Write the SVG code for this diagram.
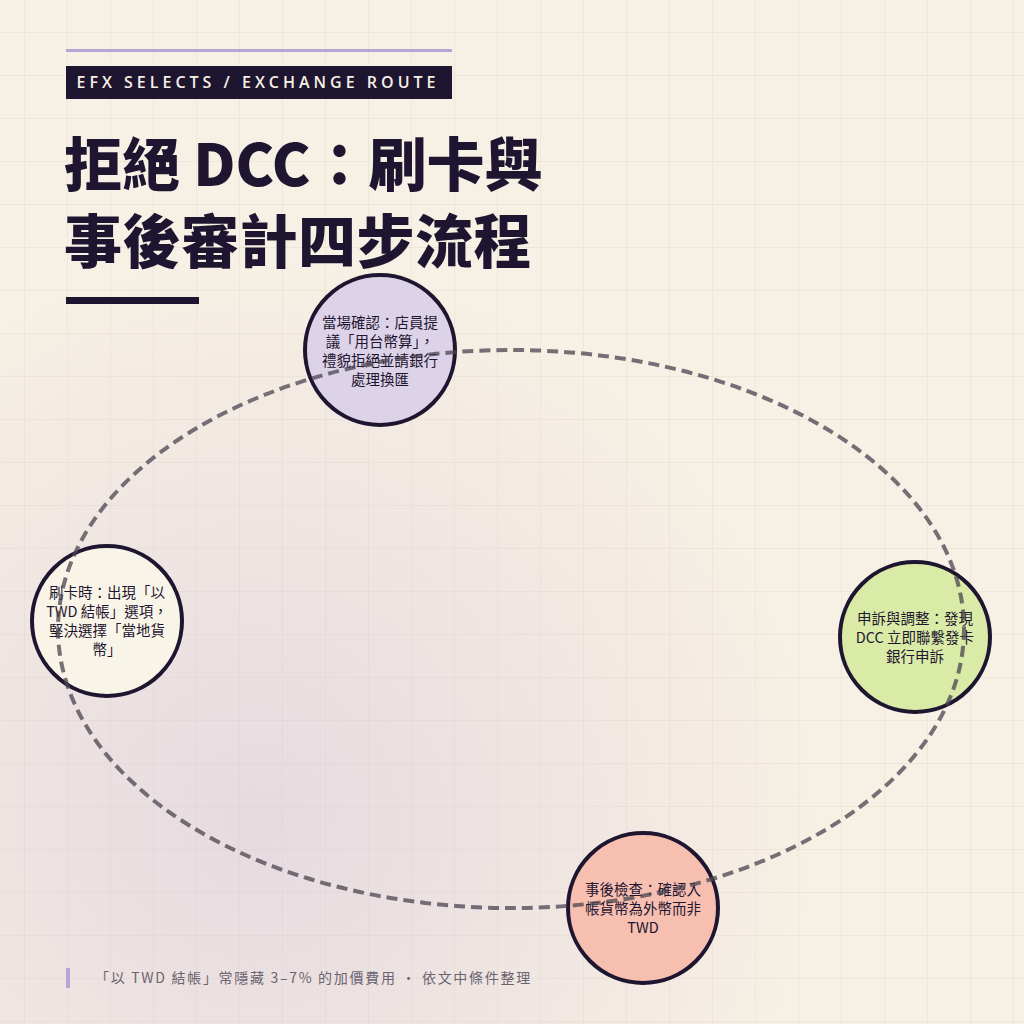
<svg xmlns="http://www.w3.org/2000/svg" width="1024" height="1024" viewBox="0 0 1024 1024">
<defs>
<pattern id="grid" width="43" height="43" patternUnits="userSpaceOnUse" x="-18" y="-10">
<path d="M43 0V43H0" fill="none" stroke="#e6ddd0" stroke-width="1"/>
</pattern>
<radialGradient id="haze" cx="0.25" cy="0.8" r="0.55">
<stop offset="0" stop-color="#d8c8dc" stop-opacity="0.55"/>
<stop offset="1" stop-color="#d8c8dc" stop-opacity="0"/>
</radialGradient>
<style>
.node{stroke:#1e1630;stroke-width:4}
.lbl{font-family:"Noto Sans CJK TC","Noto Sans",sans-serif;font-size:14.5px;fill:#1e1630;text-anchor:middle}
.ttl{font-family:"Noto Sans CJK TC",sans-serif;font-size:58px;font-weight:900;fill:#1e1630}
</style>
</defs>
<rect width="1024" height="1024" fill="#f7f0e4"/>
<rect width="1024" height="1024" fill="url(#grid)"/>
<rect width="1024" height="1024" fill="url(#haze)"/>
<rect x="66" y="49" width="386" height="3" fill="#b6a6d6"/>
<rect x="66" y="66" width="386" height="33" fill="#1e1630"/>
<text x="258" y="88" font-family="'Open Sans','Noto Sans',sans-serif" font-size="16" font-weight="600" letter-spacing="4" fill="#f7f0e4" text-anchor="middle">EFX SELECTS / EXCHANGE ROUTE</text>
<text class="ttl" x="64" y="186">拒絕 DCC：刷卡與</text>
<text class="ttl" x="64" y="263" letter-spacing="0.5">事後審計四步流程</text>
<rect x="66" y="297" width="133" height="7" fill="#1e1630"/>
<g id="n1"><circle cx="380" cy="350" r="75" fill="#ddd3e8" class="node"/>
<text class="lbl"><tspan x="380" y="328">當場確認：店員提</tspan><tspan x="380" y="347">議「用台幣算」，</tspan><tspan x="380" y="366">禮貌拒絕並請銀行</tspan><tspan x="380" y="385">處理換匯</tspan></text></g>
<g id="n2"><circle cx="107" cy="621" r="75" fill="#f9f4e8" class="node"/>
<text class="lbl"><tspan x="107" y="598">刷卡時：出現「以</tspan><tspan x="107" y="617">TWD 結帳」選項，</tspan><tspan x="107" y="636">堅決選擇「當地貨</tspan><tspan x="107" y="655">幣」</tspan></text></g>
<g id="n3"><circle cx="915" cy="637" r="75" fill="#d9eba6" class="node"/>
<text class="lbl"><tspan x="915" y="624">申訴與調整：發現</tspan><tspan x="915" y="643">DCC 立即聯繫發卡</tspan><tspan x="915" y="662">銀行申訴</tspan></text></g>
<g id="n4"><circle cx="643" cy="908" r="75" fill="#f7bfb0" class="node"/>
<text class="lbl"><tspan x="643" y="895">事後檢查：確認入</tspan><tspan x="643" y="914">帳貨幣為外幣而非</tspan><tspan x="643" y="933">TWD</tspan></text></g>
<g id="connectors"><ellipse cx="511" cy="629" rx="453" ry="279" fill="none" stroke="#4a4450" stroke-opacity="0.75" stroke-width="4" stroke-dasharray="11 6"/></g>
<rect x="66" y="968" width="4" height="20" fill="#b6a6d6"/>
<text x="95" y="983" font-family="'Noto Sans CJK TC',sans-serif" font-size="14" fill="#6b6470" letter-spacing="1.7">「以 TWD 結帳」常隱藏 3–7% 的加價費用 · 依文中條件整理</text>
</svg>
